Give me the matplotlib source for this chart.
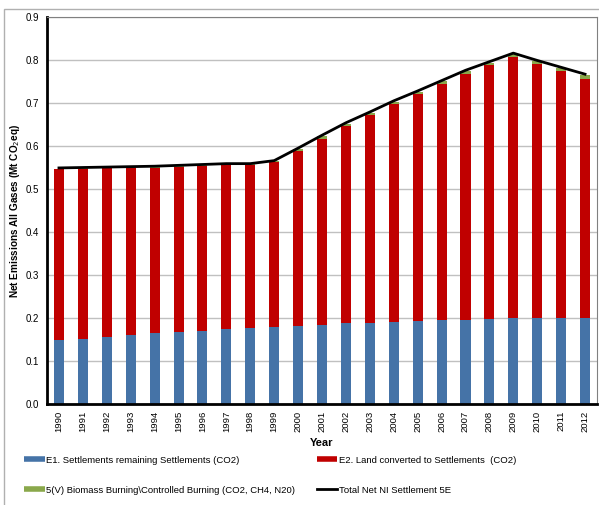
import numpy as np
import matplotlib
matplotlib.use("Agg")
import matplotlib.pyplot as plt
from matplotlib.lines import Line2D
from matplotlib.patches import Rectangle

plt.rcParams['font.family'] = ['Liberation Sans', 'DejaVu Sans']

years = [str(y) for y in range(1990, 2013)]

# E1. Settlements remaining Settlements (CO2)
e1 = [0.148, 0.152, 0.156, 0.160, 0.164, 0.167, 0.170, 0.174, 0.176, 0.179, 0.181, 0.184,
      0.188, 0.188, 0.191, 0.192, 0.195, 0.196, 0.198, 0.199, 0.199, 0.201, 0.201]
# E2. Land converted to Settlements (CO2)
e2 = [0.398, 0.395, 0.392, 0.390, 0.386, 0.385, 0.384, 0.382, 0.380, 0.383, 0.407, 0.433,
      0.459, 0.483, 0.507, 0.529, 0.550, 0.572, 0.590, 0.609, 0.592, 0.573, 0.555]
# 5(V) Biomass Burning
burn = [0.001, 0.001, 0.001, 0.001, 0.001, 0.001, 0.001, 0.001, 0.001, 0.002, 0.005, 0.006,
        0.005, 0.006, 0.005, 0.005, 0.005, 0.006, 0.006, 0.006, 0.006, 0.007, 0.009]
# Total Net NI Settlement 5E
total = [0.549, 0.550, 0.551, 0.552, 0.553, 0.555, 0.557, 0.559, 0.559, 0.566, 0.595, 0.625,
         0.654, 0.679, 0.705, 0.728, 0.752, 0.776, 0.796, 0.816, 0.799, 0.783, 0.767]

c_blue = "#4573a7"
c_red = "#c00000"
c_green = "#8aa84b"

fig = plt.figure(figsize=(5.99, 5.05), dpi=100)
fig.patches.append(Rectangle((4 / 599, -0.1), 1.2, 1 - 9 / 505 + 0.1, transform=fig.transFigure,
                             fill=False, edgecolor="#b0b0b0", linewidth=1.0))
ax = fig.add_axes([47 / 599, 1 - 404 / 505, 550 / 599, 387 / 505])

x = np.arange(len(years))
e1 = np.array(e1)
e2 = np.array(e2)
w = 0.42
ax.bar(x, e1, w, color=c_blue, zorder=2)
ax.bar(x, e2, w, bottom=e1, color=c_red, zorder=2)
ax.bar(x, burn, w, bottom=e1 + e2, color=c_green, zorder=2)
ax.plot(x, total, color="black", lw=2, zorder=3)

ax.set_xlim(-0.5, len(years) - 0.5)
ax.set_ylim(0, 0.9)
ax.set_yticks(np.arange(0, 0.91, 0.1))
ax.set_yticklabels(["%.1f" % v for v in np.arange(0, 0.91, 0.1)], fontsize=7)
ax.set_xticks(x)
ax.set_xticklabels(years, rotation=90, fontsize=6.8)
ax.tick_params(axis="y", length=0, pad=6)
ax.tick_params(axis="x", length=0, pad=5)
ax.grid(axis="y", color="#c0c0c0", lw=1, zorder=0)
ax.set_axisbelow(True)
for s in ["top", "right"]:
    ax.spines[s].set_color("#808080")
    ax.spines[s].set_linewidth(0.8)
for s in ["left", "bottom"]:
    ax.spines[s].set_color("black")
    ax.spines[s].set_linewidth(2)

ax.set_xlabel("Year", fontsize=8, fontweight="bold", labelpad=4)
ax.set_ylabel("Net Emissions All Gases (Mt CO$_2$eq)", fontsize=7.2, fontweight="bold", labelpad=2)

handles = [Line2D([], [], color=c_blue, lw=4, solid_capstyle="butt"),
           Line2D([], [], color=c_green, lw=4, solid_capstyle="butt"),
           Line2D([], [], color=c_red, lw=4, solid_capstyle="butt"),
           Line2D([], [], color="black", lw=2)]
labels = ["E1. Settlements remaining Settlements (CO2)",
          "5(V) Biomass Burning\\Controlled Burning (CO2, CH4, N20)",
          "E2. Land converted to Settlements  (CO2)",
          "Total Net NI Settlement 5E"]
fig.legend(handles, labels, ncol=2, loc="upper left", bbox_to_anchor=(20 / 599, 1 - 452 / 505),
           frameon=False, fontsize=6.8, handlelength=2.2, handletextpad=0.15,
           columnspacing=2.3, labelspacing=2.2, borderaxespad=0)

fig.savefig("out.png", dpi=100)
